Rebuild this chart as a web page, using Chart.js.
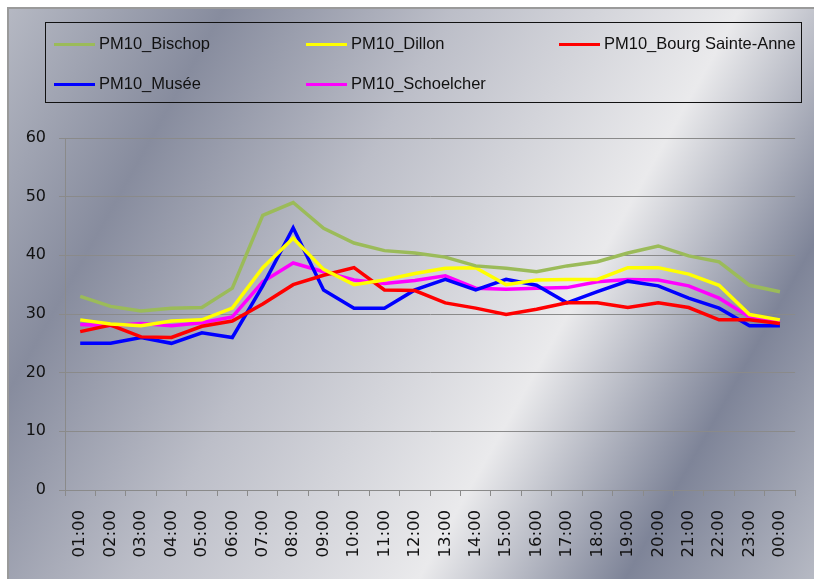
<!DOCTYPE html>
<html>
<head>
<meta charset="utf-8">
<script src="https://cdn.jsdelivr.net/npm/chart.js@4/dist/chart.umd.min.js"></script>
<style>
  html, body { margin: 0; padding: 0; background: #fff; }
  #wrap { position: relative; width: 814px; height: 579px; }
  #legend {
    position: absolute; left: 45px; top: 22px; width: 757px; height: 81px;
    border: 1.5px solid #111; box-sizing: border-box;
    font-family: "Liberation Sans", Arial, sans-serif; font-size: 16.5px; color: #111;
  }
  .item { position: absolute; height: 20px; line-height: 20px; white-space: nowrap; }
  .item span.ln { display: inline-block; width: 41px; height: 3px; vertical-align: middle; margin-right: 4px; }
</style>
</head>
<body>
<div id="wrap">
  <canvas id="chart" width="814" height="579"></canvas>
  <div id="legend"></div>
</div>
<script>
// hours on the x axis
const hours = ['01:00','02:00','03:00','04:00','05:00','06:00','07:00','08:00','09:00','10:00','11:00','12:00',
               '13:00','14:00','15:00','16:00','17:00','18:00','19:00','20:00','21:00','22:00','23:00','00:00'];

const seriesNames = ['PM10_Bischop', 'PM10_Dillon', 'PM10_Bourg Sainte-Anne', 'PM10_Musée', 'PM10_Schoelcher'];
const seriesColors = ['#9bbb59', '#ffff00', '#ff0000', '#0000ff', '#ff00ff'];

const bischop = [33, 31.3, 30.5, 31, 31.1, 34.4, 46.8, 49, 44.6, 42.1, 40.8, 40.4, 39.7, 38.2, 37.8, 37.2, 38.2, 38.9, 40.4, 41.6, 39.9, 38.9, 34.9, 33.8];
const dillon = [29, 28.3, 28, 28.8, 29, 31, 37.9, 42.9, 37.6, 35, 35.8, 36.9, 37.8, 37.9, 35, 35.8, 35.9, 35.9, 37.9, 37.9, 36.8, 34.9, 29.9, 29];
const bourg = [27, 28.1, 26.1, 26, 27.9, 28.8, 31.7, 35, 36.6, 37.9, 34.1, 34, 31.9, 31, 29.9, 30.8, 31.9, 31.9, 31.1, 31.9, 31.1, 29, 29, 28.4];
const musee = [25, 25, 26, 25, 26.8, 26, 34.8, 44.7, 34.1, 31, 31, 34.1, 35.9, 34.1, 35.9, 34.9, 31.9, 33.8, 35.6, 34.8, 32.7, 31, 28, 28];
const schoelcher = [28.2, 28, 28.4, 28, 28.5, 29.5, 35.5, 38.7, 37.2, 35.8, 35.2, 35.7, 36.5, 34.4, 34.2, 34.4, 34.5, 35.5, 35.9, 35.8, 34.8, 32.7, 29.5, 28.5];

const yTicks = [0, 10, 20, 30, 40, 50, 60];

const allValues = [bischop, dillon, bourg, musee, schoelcher];

// metallic background of the chart frame
const frameBg = {
  id: 'frameBg',
  beforeDraw(chart) {
    const ctx = chart.ctx;
    ctx.save();
    ctx.fillStyle = '#ffffff';
    ctx.fillRect(0, 0, chart.width, chart.height);
    const g = ctx.createLinearGradient(0, 0, 870, 490);
    g.addColorStop(0, '#b8bbc5');
    g.addColorStop(0.2, '#878c9e');
    g.addColorStop(0.4, '#bcbec8');
    g.addColorStop(0.65, '#eaeaec');
    g.addColorStop(0.83, '#7e8498');
    g.addColorStop(1, '#b8bbc5');
    ctx.fillStyle = g;
    ctx.fillRect(8, 8, chart.width - 8, chart.height - 8);
    ctx.strokeStyle = '#9a9a9a';
    ctx.lineWidth = 2;
    ctx.strokeRect(8, 8, chart.width, chart.height);
    ctx.restore();
  }
};

const datasets = seriesNames.map((name, i) => ({
  label: name,
  data: allValues[i],
  borderColor: seriesColors[i],
  backgroundColor: seriesColors[i],
  borderWidth: 3.5,
  pointRadius: 0,
  tension: 0,
  fill: false
}));

const chart = new Chart(document.getElementById('chart'), {
  type: 'line',
  data: { labels: hours, datasets: datasets },
  options: {
    responsive: false,
    animation: false,
    layout: { padding: { left: 0, right: 13, top: 138, bottom: 0 } },
    plugins: { legend: { display: false }, tooltip: { enabled: false } },
    scales: {
      x: {
        offset: true,
        grid: { drawOnChartArea: false, drawTicks: true, tickLength: 6, offset: true, color: '#8a8a8a' },
        border: { color: '#8a8a8a' },
        ticks: {
          minRotation: 90, maxRotation: 90, autoSkip: false, padding: 14,
          color: '#111', font: { family: 'DejaVu Sans', size: 16.5 }
        },
        afterFit(scale) { scale.height = 89; }
      },
      y: {
        min: 0, max: 60,
        afterBuildTicks(scale) { scale.ticks = yTicks.map(v => ({ value: v })); },
        grid: { color: '#8a8a8a', tickLength: 6 },
        border: { color: '#8a8a8a' },
        ticks: { padding: 13, color: '#111', font: { family: 'DejaVu Sans', size: 16 } },
        afterFit(scale) { scale.width = 65; }
      }
    }
  },
  plugins: [frameBg]
});

// legend box
const legend = document.getElementById('legend');
const legendPos = [[8, 10], [260, 10], [513, 10], [8, 50], [260, 50]];
seriesNames.forEach((name, i) => {
  const d = document.createElement('div');
  d.className = 'item';
  d.style.left = legendPos[i][0] + 'px';
  d.style.top = legendPos[i][1] + 'px';
  d.innerHTML = '<span class="ln" style="background:' + seriesColors[i] + '"></span>' + name;
  legend.appendChild(d);
});
</script>
</body>
</html>
